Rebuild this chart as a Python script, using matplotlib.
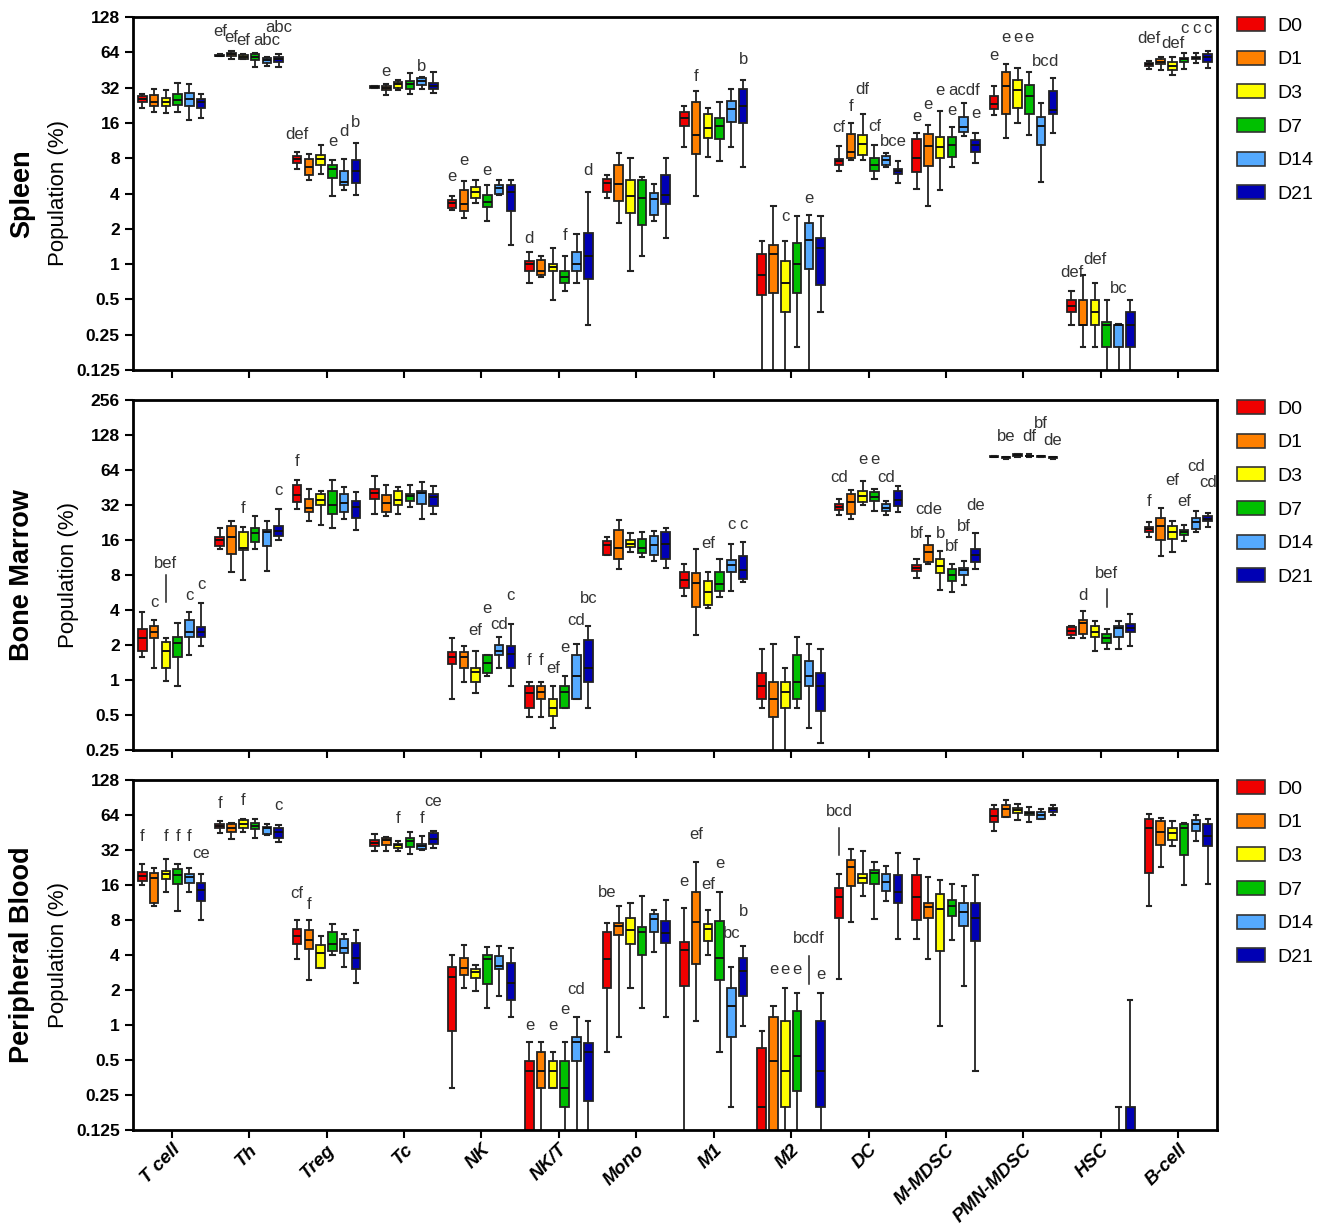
import numpy as np
import matplotlib.pyplot as plt
from matplotlib.patches import Patch
from matplotlib.ticker import NullLocator

plt.rcParams['font.family'] = ['Liberation Sans', 'DejaVu Sans']

CATS = ['T cell', 'Th', 'Treg', 'Tc', 'NK', 'NK/T', 'Mono', 'M1', 'M2', 'DC',
        'M-MDSC', 'PMN-MDSC', 'HSC', 'B-cell']
DAYS = ['D0', 'D1', 'D3', 'D7', 'D14', 'D21']
COLORS = ['#f00000', '#ff8000', '#ffff00', '#00c000', '#55aaff', '#0000b4']

# ---------------- Spleen (rows = cell types, cols = days) ----------------
SPL_HI = [[28.1, 31.2, 30.4, 35.1, 34.2, 28.1], [62, 65.5, 61.8, 63.6, 58.5, 61.8],
          [9.0, 8.74, 10.3, 7.67, 7.82, 10.85], [33.2, 34.2, 37.0, 42.8, 39.4, 43.1],
          [3.84, 5.1, 5.17, 4.69, 5.17, 5.17], [1.28, 1.18, 1.37, 1.18, 1.79, 4.1],
          [5.7, 8.9, 8.0, 5.5, 4.83, 8.0], [22.3, 29.8, 21.6, 23.9, 31.4, 37.0],
          [1.58, 3.16, 1.58, 2.55, 2.64, 2.55], [10.1, 16.0, 19.2, 10.3, 8.9, 7.57],
          [13.0, 15.5, 20.1, 14.9, 23.7, 13.2], [32.9, 50.7, 47.2, 43.6, 23.7, 38.3],
          [0.59, 0.81, 0.69, 0.49, 0.31, 0.49], [54.2, 58.5, 58.5, 62.6, 63.6, 65.5]]
SPL_Q3 = [[26.9, 27.9, 26.2, 28.1, 28.7, 25.6], [61, 62.6, 60.5, 61.8, 57.3, 58.9],
          [8.34, 7.9, 8.45, 6.96, 6.28, 7.67], [32.8, 33.1, 35.8, 36.5, 38.3, 35.1],
          [3.55, 4.25, 4.53, 3.92, 4.75, 4.69], [1.06, 1.09, 1.0, 0.88, 1.28, 1.84],
          [5.34, 6.96, 5.17, 5.17, 4.02, 5.7], [19.8, 24.1, 18.9, 17.6, 24.4, 30.9],
          [1.23, 1.46, 1.07, 1.5, 2.25, 1.66], [7.82, 12.8, 12.7, 8.0, 8.34, 6.5],
          [11.6, 12.8, 12.1, 12.1, 18.0, 11.4], [27.1, 43.6, 37.0, 33.6, 18.0, 29.8],
          [0.49, 0.49, 0.49, 0.32, 0.30, 0.39], [52.0, 55.7, 53.1, 57.3, 58.5, 61.4]]
SPL_MED = [[25.6, 23.9, 24.1, 25.3, 25.8, 23.9], [60, 61.4, 58.9, 58.5, 54.6, 56.5],
           [7.82, 6.72, 7.82, 6.5, 5.0, 6.28], [32.4, 31.8, 34.2, 34.2, 36.3, 33.1],
           [3.32, 3.26, 4.1, 3.37, 4.44, 4.1], [1.0, 0.88, 0.94, 0.78, 1.0, 1.18],
           [4.9, 4.78, 3.84, 3.65, 3.6, 3.92], [17.6, 12.5, 14.5, 15.2, 20.9, 22.3],
           [0.8, 1.23, 0.69, 1.0, 1.61, 1.37], [7.52, 9.0, 10.6, 7.06, 7.78, 6.19],
           [8.06, 10.1, 9.97, 10.3, 14.9, 10.3], [23.4, 32.9, 30.4, 27.1, 15.2, 20.5],
           [0.44, 0.30, 0.39, 0.30, 0.30, 0.30], [50.5, 53.1, 48.8, 55.7, 56.9, 58.5]]
SPL_Q1 = [[24.1, 22.2, 22.2, 22.6, 22.2, 21.5], [59.5, 59.7, 56.5, 55.3, 52.0, 53.1],
          [7.27, 5.7, 6.96, 5.41, 4.69, 4.9], [32.0, 30.4, 32.0, 31.4, 33.6, 30.9],
          [3.02, 2.86, 3.65, 3.06, 3.97, 2.86], [0.88, 0.8, 0.88, 0.69, 0.88, 0.74],
          [4.1, 3.48, 2.73, 2.17, 2.64, 3.23], [15.2, 8.62, 11.9, 11.6, 16.3, 16.0],
          [0.54, 0.57, 0.39, 0.57, 0.9, 0.66], [7.06, 8.0, 8.45, 6.28, 7.06, 5.82],
          [6.1, 6.81, 8.0, 8.17, 13.4, 9.0], [20.9, 18.9, 21.6, 18.9, 10.3, 18.9],
          [0.39, 0.30, 0.30, 0.196, 0.196, 0.196], [48.8, 50.7, 45.6, 53.1, 55.7, 53.1]]
SPL_LO = [[21.6, 20.0, 19.4, 20.0, 16.8, 17.6], [59, 56.5, 55.7, 48.2, 48.5, 47.5],
          [6.42, 5.24, 5.82, 3.84, 4.25, 3.92], [31.7, 27.5, 30.4, 28.4, 31.4, 28.8],
          [2.92, 2.46, 3.32, 2.35, 3.9, 1.46], [0.69, 0.78, 0.49, 0.59, 0.69, 0.3],
          [3.65, 2.25, 0.88, 1.18, 2.35, 1.66], [9.97, 3.84, 8.17, 7.52, 9.97, 6.72],
          [0.1, 0.1, 0.1, 0.196, 0.1, 0.39], [6.19, 7.67, 7.67, 5.28, 6.72, 4.93],
          [4.33, 3.16, 4.25, 6.72, 12.3, 7.31], [18.8, 11.9, 16.0, 12.5, 5.0, 13.1],
          [0.30, 0.196, 0.196, 0.1, 0.1, 0.1], [46.5, 45.6, 40.8, 45.8, 52.0, 47.2]]

# ---------------- Bone marrow ----------------
BM_HI = [[3.83, 3.3, 2.28, 3.07, 3.83, 4.57], [20.3, 23.1, 20.7, 25.8, 23.3, 29.8],
         [53.0, 44.3, 42.3, 53.0, 45.8, 41.4], [56.6, 47.3, 45.8, 47.9, 50.6, 46.5],
         [2.28, 1.97, 1.79, 1.64, 2.33, 3.03], [0.97, 0.97, 0.88, 1.09, 2.04, 2.93],
         [16.9, 23.9, 18.5, 18.8, 19.1, 20.3], [10.0, 13.5, 8.46, 11.0, 14.8, 15.4],
         [1.84, 2.04, 1.28, 2.33, 2.04, 1.84], [36.3, 42.8, 51.6, 44.3, 34.5, 46.8],
         [11.0, 17.3, 12.8, 10.0, 10.5, 18.4], [85, 83, 88, 88, 85, 83],
         [2.89, 3.95, 3.2, 2.75, 3.2, 3.7], [22.8, 30.2, 23.3, 21.7, 28.5, 27.5]]
BM_Q3 = [[2.75, 2.93, 2.14, 2.33, 3.3, 2.84], [16.9, 21.0, 18.8, 20.3, 19.6, 21.1],
         [47.9, 36.3, 40.1, 42.3, 39.6, 34.5], [44.3, 39.3, 42.3, 40.1, 42.3, 40.1],
         [1.75, 1.75, 1.28, 1.64, 2.0, 1.95], [0.88, 0.88, 0.69, 0.88, 1.64, 2.2],
         [15.7, 19.6, 15.9, 16.4, 17.3, 18.8], [8.46, 8.35, 7.07, 8.46, 10.8, 11.6],
         [1.16, 0.97, 0.97, 1.64, 1.45, 1.16], [32.9, 40.1, 42.3, 41.0, 32.9, 42.3],
         [9.8, 14.5, 11.0, 9.05, 9.24, 13.5], [84, 82.5, 87, 85, 84.5, 82.5],
         [2.84, 3.3, 2.89, 2.5, 2.93, 3.03], [20.7, 24.9, 21.1, 19.6, 24.9, 25.8]]
BM_MED = [[2.28, 2.6, 1.76, 2.08, 2.6, 2.57], [15.9, 16.9, 13.6, 18.4, 18.8, 19.0],
          [38.8, 30.2, 35.6, 31.8, 33.5, 30.8], [40.6, 33.5, 35.1, 38.0, 40.9, 37.5],
          [1.57, 1.57, 1.18, 1.39, 1.79, 1.67], [0.78, 0.79, 0.58, 0.79, 1.09, 1.28],
          [14.6, 13.6, 14.8, 13.6, 14.4, 14.8], [7.31, 6.85, 5.69, 6.71, 9.8, 8.87],
          [0.89, 0.68, 0.79, 0.97, 1.09, 0.88], [30.8, 34.0, 38.0, 37.5, 30.2, 35.6],
          [9.24, 12.6, 9.47, 8.0, 8.87, 11.8], [83.5, 82, 85.5, 84.5, 84, 82],
          [2.66, 3.07, 2.6, 2.29, 2.78, 2.8], [19.8, 21.1, 18.8, 18.8, 22.8, 24.4]]
BM_Q1 = [[1.76, 2.28, 1.28, 1.57, 2.33, 2.33], [14.2, 12.2, 13.0, 15.4, 14.2, 17.3],
         [34.0, 27.8, 32.3, 26.9, 27.8, 24.9], [35.8, 27.8, 32.3, 34.5, 32.9, 31.4],
         [1.37, 1.28, 0.97, 1.16, 1.64, 1.28], [0.58, 0.69, 0.49, 0.58, 0.69, 0.97],
         [12.0, 11.0, 13.9, 12.4, 11.9, 11.0], [6.15, 4.22, 4.43, 5.8, 8.57, 7.42],
         [0.68, 0.485, 0.58, 0.68, 0.88, 0.54], [28.8, 26.9, 34.0, 34.7, 28.2, 31.2],
         [8.64, 10.3, 8.35, 7.07, 8.0, 10.3], [83, 81.5, 84, 84, 83.5, 81.5],
         [2.44, 2.5, 2.33, 2.07, 2.33, 2.57], [18.8, 16.1, 16.2, 17.5, 20.0, 23.3]]
BM_LO = [[1.57, 1.28, 0.99, 0.88, 1.64, 1.97], [13.5, 8.46, 7.27, 13.5, 8.64, 16.1],
         [29.8, 23.3, 21.7, 20.4, 24.1, 19.6], [26.6, 25.8, 26.9, 30.8, 24.4, 26.9],
         [0.68, 0.97, 0.78, 1.09, 1.28, 0.89], [0.485, 0.485, 0.39, 0.58, 0.69, 0.58],
         [11.9, 8.93, 12.6, 11.4, 10.5, 9.17], [5.25, 2.44, 4.14, 5.16, 5.8, 6.93],
         [0.58, 0.2, 0.2, 0.58, 0.39, 0.29], [26.4, 24.4, 31.8, 28.5, 26.4, 27.8],
         [7.52, 9.86, 6.0, 5.69, 6.58, 9.05], [82, 79, 83, 83, 83, 79],
         [2.28, 2.28, 1.76, 1.84, 1.84, 1.97], [16.9, 11.6, 12.6, 15.7, 18.8, 20.7]]

# ---------------- Peripheral blood (None = not shown) ----------------
PB_HI = [[24.1, 22.3, 26.6, 24.1, 22.3, 19.7], [56.9, 55.1, 59.6, 58.7, 54.0, 52.5],
         [8.0, 8.0, 5.83, 7.44, 6.1, 6.56], [44.3, 41.6, 38.3, 45.7, 42.0, 46.6],
         [4.0, 4.88, 3.28, 4.69, 4.79, 4.63], [0.71, 0.71, 0.59, 0.71, 1.18, 1.08],
         [7.48, 10.6, 11.1, 12.9, 9.77, 11.9], [10.2, 25.2, 9.77, 13.9, 3.16, 4.79],
         [0.89, 1.46, 2.07, 1.87, None, 1.87], [20.0, 32.8, 31.4, 25.2, 23.3, 30.3],
         [26.9, 18.7, 17.7, 16.2, 15.7, 19.4], [77.6, 85.6, 79.0, 75.5, 71.5, 77.9],
         [None, None, None, None, 0.198, 1.64], [65.7, 60.7, 56.9, 55.1, 64.0, 59.6]]
PB_Q3 = [[20.8, 20.4, 21.1, 22.1, 20.0, 16.8], [53.2, 54.0, 57.6, 55.1, 50.8, 49.2],
         [6.74, 6.56, 4.88, 6.35, 5.53, 5.11], [38.8, 40.8, 36.3, 40.8, 36.3, 44.6],
         [3.16, 3.74, 3.05, 4.0, 3.92, 3.39], [0.49, 0.59, 0.49, 0.49, 0.79, 0.7],
         [6.35, 7.6, 8.38, 7.0, 9.07, 7.84], [5.17, 13.9, 7.35, 7.84, 2.07, 3.74],
         [0.64, 1.17, 1.08, 1.32, None, 1.08], [15.2, 26.2, 20.0, 21.5, 20.0, 19.5],
         [19.5, 11.1, 13.5, 11.9, 11.1, 11.1], [72.5, 77.6, 74.0, 68.5, 68.5, 74.0],
         [None, None, None, None, 0.1, 0.198], [58.8, 56.9, 49.2, 54.0, 58.0, 54.0]]
PB_MED = [[19.1, 18.3, 19.7, 19.4, 18.7, 14.5], [51.5, 49.8, 54.0, 51.5, 49.2, 46.0],
          [5.83, 5.35, 4.13, 5.0, 4.56, 3.74], [37.0, 38.8, 35.3, 38.3, 34.6, 40.1],
          [2.59, 3.07, 2.83, 3.67, 3.22, 2.28], [0.4, 0.4, 0.4, 0.29, 0.71, 0.59],
          [3.67, 7.1, 6.56, 6.35, 8.21, 6.22], [4.39, 7.74, 6.64, 3.79, 1.46, 2.91],
          [0.198, 0.49, 0.4, 0.54, None, 0.4], [12.7, 22.8, 18.5, 20.1, 17.0, 13.9],
          [12.6, 10.3, 10.0, 10.6, 9.38, 8.38], [62.8, 71.5, 70.2, 66.1, 63.6, 71.5],
          [None, None, None, None, 0.08, 0.1], [49.2, 45.6, 45.2, 49.2, 53.2, 42.2]]
PB_Q1 = [[17.3, 11.1, 18.1, 16.4, 16.8, 11.7], [49.2, 45.6, 49.2, 48.2, 43.6, 40.8],
         [5.0, 4.48, 3.12, 4.33, 4.13, 3.05], [34.3, 35.3, 33.5, 34.0, 32.4, 36.3],
         [0.89, 2.69, 2.52, 2.24, 3.05, 1.64], [0.1, 0.29, 0.29, 0.198, 0.49, 0.22],
         [2.07, 5.95, 5.0, 4.0, 6.31, 5.1], [2.16, 3.33, 5.28, 2.44, 0.79, 1.78],
         [0.1, 0.1, 0.198, 0.27, None, 0.198], [8.27, 15.7, 16.8, 16.4, 14.2, 11.1],
         [8.0, 8.38, 4.33, 8.65, 7.1, 5.28], [55.7, 61.9, 67.0, 63.6, 58.8, 68.5],
         [None, None, None, None, 0.06, 0.08], [20.4, 35.3, 39.0, 29.0, 46.6, 34.6]]
PB_LO = [[16.0, 10.6, 13.8, 9.57, 13.9, 8.0], [44.5, 40.0, 45.6, 40.8, 43.2, 37.5],
         [3.72, 2.44, 3.08, 4.0, 3.17, 2.31], [31.4, 31.4, 31.4, 29.8, 32.0, 33.5],
         [0.29, 2.07, 1.96, 1.39, 1.78, 1.18], [0.1, 0.1, 0.29, 0.1, 0.1, 0.1],
         [0.59, 0.79, 2.07, 1.39, 4.25, 1.17], [0.1, 1.08, 4.0, 0.59, 0.198, 0.98],
         [0.1, 0.1, 0.1, 0.1, None, 0.1], [2.47, 7.68, 12.9, 8.21, 11.7, 5.53],
         [5.53, 3.72, 0.98, 5.38, 2.16, 0.4], [46.6, 61.9, 58.0, 56.1, 58.8, 63.6],
         [None, None, None, None, 0.05, 0.05], [10.6, 22.8, 34.6, 16.0, 38.3, 16.4]]

# significance letters: (cell type, day index, text, height in %)
SPL_LETTERS = [
    (1, 0, 'ef', 95.9), (1, 1, 'ef', 85.1), (1, 2, 'ef', 81.4), (1, 4, 'abc', 81.4), (1, 5, 'abc', 104.5),
    (2, 0, 'def', 12.8), (2, 3, 'e', 11.1), (2, 4, 'd', 13.4), (2, 5, 'b', 16.1),
    (3, 1, 'e', 43.6), (3, 4, 'b', 48.8),
    (4, 0, 'e', 5.59), (4, 1, 'e', 7.67), (4, 3, 'e', 6.28),
    (5, 0, 'd', 1.64), (5, 3, 'f', 1.75), (5, 5, 'd', 6.28),
    (7, 1, 'f', 40.0), (7, 5, 'b', 55.7),
    (8, 2, 'c', 2.55), (8, 4, 'e', 3.65),
    (9, 0, 'cf', 14.6), (9, 1, 'f', 21.9), (9, 2, 'df', 31.0), (9, 3, 'cf', 14.9), (9, 4.6, 'bce', 11.0),
    (10, 0, 'e', 18.0), (10, 1, 'e', 22.9), (10, 2, 'e', 30.4), (10, 3, 'e', 20.5),
    (10, 4, 'acdf', 30.4), (10, 5, 'e', 19.4),
    (11, 0, 'e', 60.5), (11, 1, 'e', 85.1), (11, 2, 'e', 85.1), (11, 3, 'e', 85.1),
    (11, 4, 'bc', 53.8), (11, 5, 'd', 53.8),
    (12, 0, 'def', 0.85), (12, 2, 'def', 1.10), (12, 4, 'bc', 0.62),
    (13, 0, 'def', 84.0), (13, 2, 'def', 76.2), (13, 3, 'c', 102.5), (13, 4, 'c', 102.5), (13, 5, 'c', 102.5),
]
BM_LETTERS = [
    (0, 1, 'c', 4.66), (0, 2, 'bef', 10.0), (0, 4, 'c', 5.32), (0, 5, 'c', 6.59),
    (1, 2, 'f', 29.8), (1, 5, 'c', 42.8),
    (2, 0, 'f', 75.2),
    (4, 2, 'ef', 2.66), (4, 3, 'e', 4.14), (4, 4, 'cd', 3.03), (4, 5, 'c', 5.32),
    (5, 0, 'f', 1.46), (5, 1, 'f', 1.46), (5, 2, 'ef', 1.26), (5, 3, 'e', 1.91),
    (5, 4, 'cd', 3.22), (5, 5, 'bc', 5.05),
    (7, 2, 'ef', 15.0), (7, 4, 'c', 21.7), (7, 5, 'c', 21.7),
    (9, 0, 'cd', 54.7), (9, 2, 'e', 79.3), (9, 3, 'e', 79.3), (9, 4, 'cd', 55.1),
    (10, 0, 'bf', 18.1), (10, 1, 'cde', 29.2), (10, 2, 'b', 18.1), (10, 3, 'bf', 14.2),
    (10, 4, 'bf', 21.0), (10, 5, 'de', 31.4),
    (11, 1, 'be', 123.5), (11, 3, 'df', 123.5), (11, 4, 'bf', 161), (11, 5, 'de', 115.7),
    (12, 1, 'd', 5.32), (12, 3, 'bef', 8.2),
    (13, 0, 'f', 34.4), (13, 2, 'ef', 52.3), (13, 3, 'ef', 34.0), (13, 4, 'cd', 69.0), (13, 5, 'cd', 49.9),
]
PB_LETTERS = [
    (0, 0, 'f', 41.4), (0, 2, 'f', 41.4), (0, 3, 'f', 41.4), (0, 4, 'f', 41.4), (0, 5, 'ce', 29.8),
    (1, 0, 'f', 80), (1, 2, 'f', 86), (1, 5, 'c', 76.5),
    (2, 0, 'cf', 13.5), (2, 1, 'f', 10.9),
    (3, 2, 'f', 59.6), (3, 4, 'f', 59.6), (3, 5, 'ce', 82.8),
    (5, 0, 'e', 1.0), (5, 2, 'e', 0.99), (5, 3, 'e', 1.37), (5, 4, 'cd', 2.03),
    (6, 0, 'be', 13.9),
    (7, 0, 'e', 17.3), (7, 1, 'ef', 43.6), (7, 2, 'ef', 16.2), (7, 3, 'e', 24.6),
    (7, 4, 'bc', 6.15), (7, 5, 'b', 9.38),
    (8, 1, 'e', 3.0), (8, 2, 'e', 3.0), (8, 3, 'e', 3.0), (8, 4, 'bcdf', 5.53), (8, 5, 'e', 2.73),
    (9, 0, 'bcd', 69.2),
]
# vertical marker lines: (cell type, day index, low, high)
BM_LINES = [(0, 2, 4.73, 7.93), (12, 3, 4.22, 6.07)]
PB_LINES = [(8, 4, 2.24, 3.92), (9, 0, 29.0, 49.8)]

PANELS = [
    ('Spleen', SPL_HI, SPL_Q3, SPL_MED, SPL_Q1, SPL_LO, SPL_LETTERS, [], (0.125, 128)),
    ('Bone Marrow', BM_HI, BM_Q3, BM_MED, BM_Q1, BM_LO, BM_LETTERS, BM_LINES, (0.25, 256)),
    ('Peripheral Blood', PB_HI, PB_Q3, PB_MED, PB_Q1, PB_LO, PB_LETTERS, PB_LINES, (0.125, 128)),
]

W, H = 1330, 1226
fig = plt.figure(figsize=(W / 100, H / 100), dpi=100)

# axes boxes in pixels: (top, bottom)
boxes_px = [(17, 370), (400, 750), (780, 1130)]
left_px, right_px = 133, 1217
step = 0.152
bw = 0.11

for k, (name, hi, q3, med, q1, lo, letters, lines, ylim) in enumerate(PANELS):
    top, bot = boxes_px[k]
    ax = fig.add_axes([left_px / W, 1 - bot / H, (right_px - left_px) / W, (bot - top) / H])

    stats, pos, cols = [], [], []
    for i in range(len(CATS)):
        for j in range(len(DAYS)):
            if hi[i][j] is None:
                continue
            stats.append(dict(whislo=lo[i][j], q1=q1[i][j], med=med[i][j],
                              q3=q3[i][j], whishi=hi[i][j], fliers=[]))
            pos.append(i + (j - 2.5) * step)
            cols.append(COLORS[j])
    bp = ax.bxp(stats, positions=pos, widths=bw, patch_artist=True, showfliers=False,
                manage_ticks=False,
                boxprops=dict(edgecolor='#222222', linewidth=1.3),
                medianprops=dict(color='#111111', linewidth=1.4),
                whiskerprops=dict(color='#222222', linewidth=1.3),
                capprops=dict(color='#222222', linewidth=1.5))
    for patch, c in zip(bp['boxes'], cols):
        patch.set_facecolor(c)

    for (i, j, txt, y) in letters:
        ax.text(i + (j - 2.5) * step, y, txt, ha='center', va='center',
                fontsize=12, color='#333333')
    for (i, j, y0, y1) in lines:
        x = i + (j - 2.5) * step
        ax.plot([x, x], [y0, y1], color='#222222', lw=1.1)

    ax.set_yscale('log', base=2)
    ax.set_ylim(*ylim)
    ticks = [ylim[0] * 2 ** n for n in range(11)]
    ax.set_yticks(ticks)
    ax.set_yticklabels(['%g' % t for t in ticks], fontsize=12.5, fontweight='bold')
    ax.yaxis.set_minor_locator(NullLocator())
    ax.set_xlim(-0.5, 13.5)
    ax.set_xticks(range(len(CATS)))
    if k == 2:
        ax.set_xticklabels(CATS, rotation=45, ha='right', rotation_mode='anchor',
                           fontsize=13.5, fontweight='bold', fontstyle='italic')
        ax.tick_params(axis='x', pad=2)
    else:
        ax.set_xticklabels([])
    ax.tick_params(direction='out', length=6, width=1.5)
    for s in ax.spines.values():
        s.set_linewidth(2)

    ax.set_ylabel('Population (%)', fontsize=16, labelpad=5)
    fig.text(22 / W, 1 - (top + bot) / 2 / H, name, rotation=90, ha='center', va='center',
             fontsize=19.5, fontweight='bold')

    handles = [Patch(facecolor=c, edgecolor='#333333', linewidth=1.2) for c in COLORS]
    ax.legend(handles, DAYS, loc='upper left', bbox_to_anchor=(1.018, 1.0), frameon=False,
              fontsize=14, handlelength=1.45, handleheight=0.72, handletextpad=0.67,
              labelspacing=0.82, borderpad=0, borderaxespad=0)

fig.savefig('out.png', dpi=100)
